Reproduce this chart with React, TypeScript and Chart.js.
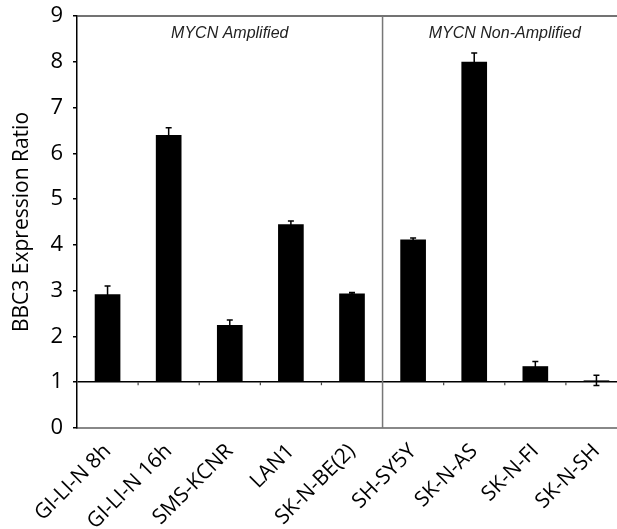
import React, { useEffect, useRef } from "react";
import { Chart, registerables } from "chart.js";

Chart.register(...registerables);

const categories = [
  "GI-LI-N 8h",
  "GI-LI-N 16h",
  "SMS-KCNR",
  "LAN1",
  "SK-N-BE(2)",
  "SH-SY5Y",
  "SK-N-AS",
  "SK-N-FI",
  "SK-N-SH",
];
const values = [2.92, 6.4, 2.25, 4.45, 2.94, 4.12, 8.0, 1.35, 1.04];
const errors = [0.18, 0.16, 0.11, 0.07, 0.02, 0.03, 0.19, 0.1, 0.11];
const baseValue = 1;
const yMin = 0;
const yMax = 9;
const groupLabels = ["MYCN Amplified", "MYCN Non-Amplified"];
const groupSplit = 5;
const yTitle = "BBC3 Expression Ratio";

const decorPlugin = {
  id: "decor",
  afterDatasetsDraw(chart: any) {
    const { ctx, chartArea, scales } = chart;
    const x = scales.x;
    const y = scales.y;
    ctx.save();
    // error bars
    ctx.strokeStyle = "#000";
    ctx.lineWidth = 1.5;
    values.forEach((v, i) => {
      const px = x.getPixelForValue(i);
      const top = y.getPixelForValue(v + errors[i]);
      const bot = y.getPixelForValue(v - errors[i]);
      ctx.beginPath();
      ctx.moveTo(px, top);
      ctx.lineTo(px, bot);
      ctx.moveTo(px - 3, top);
      ctx.lineTo(px + 3, top);
      ctx.moveTo(px - 3, bot);
      ctx.lineTo(px + 3, bot);
      ctx.stroke();
    });
    // boundary ticks on baseline
    const by = y.getPixelForValue(baseValue);
    ctx.strokeStyle = "#444";
    ctx.lineWidth = 1.2;
    for (let i = 1; i < categories.length; i++) {
      if (i === groupSplit) continue;
      const bx = x.getPixelForValue(i - 0.5);
      ctx.beginPath();
      ctx.moveTo(bx, by);
      ctx.lineTo(bx, by + 3);
      ctx.stroke();
    }
    // top border
    ctx.strokeStyle = "#444";
    ctx.lineWidth = 1.5;
    ctx.beginPath();
    ctx.moveTo(chartArea.left, chartArea.top);
    ctx.lineTo(chartArea.right, chartArea.top);
    ctx.stroke();
    // divider
    const dx = x.getPixelForValue(groupSplit - 0.5);
    ctx.strokeStyle = "#777";
    ctx.lineWidth = 1.5;
    ctx.beginPath();
    ctx.moveTo(dx, chartArea.top);
    ctx.lineTo(dx, chartArea.bottom);
    ctx.stroke();
    // group labels
    ctx.fillStyle = "#222";
    ctx.font = "italic 16px 'Liberation Sans', Arial, sans-serif";
    ctx.textAlign = "center";
    ctx.textBaseline = "middle";
    const c1 = (x.getPixelForValue(0) + x.getPixelForValue(groupSplit - 1)) / 2;
    const c2 =
      (x.getPixelForValue(groupSplit) + x.getPixelForValue(categories.length - 1)) / 2;
    ctx.fillText(groupLabels[0], c1, chartArea.top + 18);
    ctx.fillText(groupLabels[1], c2, chartArea.top + 18);
    ctx.restore();
  },
};

export default function App() {
  const ref = useRef<HTMLCanvasElement>(null);
  useEffect(() => {
    if (!ref.current) return;
    const chart = new Chart(ref.current, {
      type: "bar",
      data: {
        labels: categories,
        datasets: [
          {
            data: values,
            base: baseValue,
            backgroundColor: "#000",
            borderWidth: 0,
            barPercentage: 0.42,
            categoryPercentage: 1,
          } as any,
        ],
      },
      options: {
        animation: false,
        responsive: false,
        devicePixelRatio: 1,
        layout: { padding: { top: 16, left: 0, right: 0, bottom: 0 } },
        plugins: {
          legend: { display: false },
          tooltip: { enabled: false },
        },
        scales: {
          x: {
            type: "category",
            offset: true,
            grid: { display: true, color: "transparent", drawTicks: false },
            border: { display: true, color: "#888", width: 2 },
            ticks: {
              autoSkip: false,
              minRotation: 45,
              maxRotation: 45,
              color: "#000",
              padding: 11,
              font: { family: "'Open Sans', sans-serif", size: 21 },
            },
            afterFit: (s: any) => {
              s.height = 101;
              s.paddingLeft = 0;
              s.paddingRight = 0;
            },
          },
          y: {
            min: yMin,
            max: yMax,
            ticks: {
              stepSize: 1,
              color: "#000",
              padding: 10,
              font: { family: "'Open Sans', sans-serif", size: 22 },
            },
            grid: {
              color: (c: any) => (c.tick && c.tick.value === baseValue ? "#000" : "transparent"),
              lineWidth: 1.5,
              drawTicks: true,
              tickLength: 4,
              tickColor: "#000",
            },
            border: { display: true, color: "#000", width: 1.5 },
            title: {
              display: true,
              text: yTitle,
              color: "#000",
              padding: { top: 9, bottom: 0 },
              font: { family: "'Open Sans', sans-serif", size: 21 },
            },
            afterFit: (s: any) => {
              s.width = 77;
              s.paddingTop = 0;
              s.paddingBottom = 0;
            },
          },
        },
      },
      plugins: [decorPlugin],
    });
    return () => chart.destroy();
  }, []);
  return (
    <div
      style={{
        position: "fixed",
        left: 0,
        top: 0,
        width: 617,
        height: 529,
        overflow: "hidden",
        background: "#fff",
      }}
    >
      <canvas ref={ref} width={627} height={529} style={{ width: 627, height: 529 }} />
    </div>
  );
}
